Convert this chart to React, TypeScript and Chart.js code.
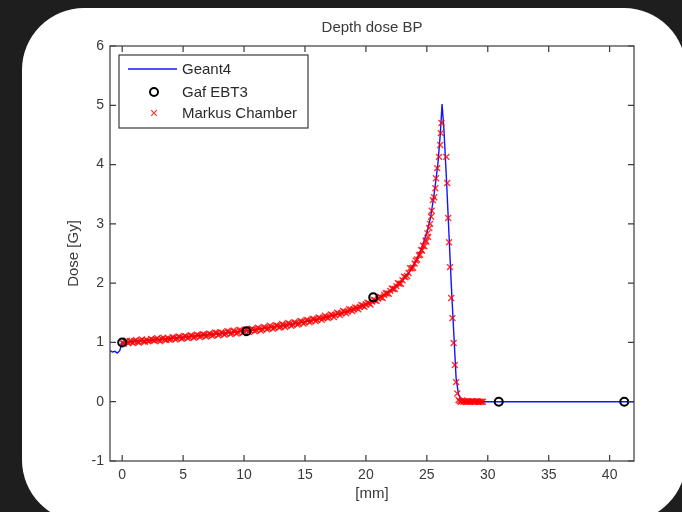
import React, { useEffect, useRef } from 'react';
import { Chart, registerables } from 'chart.js';

Chart.register(...registerables);

const titleText = 'Depth dose BP';
const xAxisTitle = '[mm]';
const yAxisTitle = 'Dose [Gy]';
const xTicks = [0, 5, 10, 15, 20, 25, 30, 35, 40];
const yTicks = [-1, 0, 1, 2, 3, 4, 5, 6];
const xRange = [-1, 42];
const yRange = [-1, 6];

const seriesNames = ['Geant4', 'Gaf EBT3', 'Markus Chamber'];

const geantX = [-1, -0.8, -0.6, -0.4, -0.2, 0, 1, 2, 3, 4, 5, 6, 7, 8, 9, 10, 11, 12, 13, 14, 15, 16, 17, 18, 19, 20, 21, 22, 23, 23.5, 24, 24.5, 25, 25.3, 25.6, 25.9, 26.1, 26.25, 26.4, 26.6, 26.8, 27.0, 27.2, 27.4, 27.6, 27.8, 28.0, 28.3, 30, 35, 42];
const geantY = [0.86, 0.84, 0.85, 0.82, 0.86, 1.0, 1.02, 1.03, 1.05, 1.07, 1.09, 1.11, 1.13, 1.15, 1.17, 1.19, 1.22, 1.25, 1.28, 1.31, 1.35, 1.39, 1.44, 1.49, 1.56, 1.64, 1.74, 1.87, 2.05, 2.17, 2.33, 2.55, 2.85, 3.1, 3.5, 4.0, 4.5, 5.02, 4.6, 3.8, 2.9, 2.0, 1.2, 0.4, 0.12, 0.04, 0.01, 0, 0, 0, 0];

const gafX = [0, 10.2, 20.6, 30.9, 41.2];
const gafY = [1.0, 1.19, 1.76, 0, 0];

// Markus chamber, first pass of readings
const markusX = [
  0, 0.25, 0.5, 0.75, 1, 1.25, 1.5, 1.75, 2, 2.25, 2.5, 2.75, 3, 3.25, 3.5, 3.75,
  4, 4.25, 4.5, 4.75, 5, 5.25, 5.5, 5.75, 6, 6.25, 6.5, 6.75, 7, 7.25, 7.5, 7.75,
  8, 8.25, 8.5, 8.75, 9, 9.25, 9.5, 9.75, 10, 10.25, 10.5, 10.75, 11, 11.25, 11.5, 11.75,
  12, 12.25, 12.5, 12.75, 13, 13.25, 13.5, 13.75, 14, 14.25, 14.5, 14.75, 15, 15.25, 15.5, 15.75,
  16, 16.25, 16.5, 16.75, 17, 17.25, 17.5, 17.75, 18, 18.25, 18.5, 18.75, 19, 19.25, 19.5, 19.75,
  20, 20.25, 20.5, 20.75, 21, 21.25, 21.5, 21.75, 22, 22.25, 22.5, 22.75, 23, 23.25, 23.5, 23.75,
  24, 24.2, 24.45, 24.6, 24.8, 24.95, 25.1, 25.27, 25.4, 25.5, 25.6, 25.7, 25.75, 25.85, 26.0, 26.1, 26.15, 26.2,
  26.6, 26.67, 26.75, 26.82, 26.9, 27.0, 27.1, 27.2, 27.3, 27.4, 27.5,
  27.6, 27.7, 27.8, 27.9, 28.0, 28.1, 28.2, 28.3, 28.4, 28.5, 28.6, 28.7, 28.8, 28.9, 29.0, 29.1, 29.2, 29.3, 29.4, 29.5, 29.6,
];
const markusY = [
  1.00, 1.01, 0.99, 1.01, 1.02, 1.01, 1.03, 1.02, 1.04, 1.03, 1.04, 1.05, 1.04, 1.06, 1.05, 1.07,
  1.06, 1.08, 1.07, 1.09, 1.08, 1.10, 1.09, 1.11, 1.10, 1.12, 1.11, 1.13, 1.12, 1.14, 1.13, 1.16,
  1.14, 1.16, 1.15, 1.18, 1.16, 1.18, 1.17, 1.20, 1.18, 1.21, 1.20, 1.22, 1.21, 1.23, 1.22, 1.25,
  1.24, 1.26, 1.25, 1.28, 1.27, 1.29, 1.29, 1.31, 1.30, 1.33, 1.32, 1.35, 1.34, 1.37, 1.36, 1.39,
  1.38, 1.41, 1.41, 1.43, 1.43, 1.46, 1.46, 1.49, 1.49, 1.52, 1.52, 1.55, 1.56, 1.58, 1.60, 1.62,
  1.64, 1.66, 1.69, 1.71, 1.74, 1.76, 1.80, 1.83, 1.87, 1.90, 1.95, 1.99, 2.05, 2.10, 2.17, 2.25,
  2.33, 2.40, 2.48, 2.55, 2.62, 2.70, 2.78, 3.00, 3.22, 3.40, 3.45, 3.60, 3.77, 3.94, 4.13, 4.33, 4.53, 4.70,
  4.13, 3.69, 3.10, 2.69, 2.27, 1.75, 1.41, 0.99, 0.62, 0.33, 0.14,
  0.03, 0.01, 0.00, 0.02, 0.00, 0.01, 0.00, 0.00, 0.01, 0.00, 0.00, 0.01, 0.00, 0.00, 0.00, 0.01, 0.00, 0.00, 0.00, 0.00, 0.00,
];

// Markus chamber, second (interleaved) pass of readings
const markusX2 = [
  0.125, 0.375, 0.625, 0.875, 1.125, 1.375, 1.625, 1.875, 2.125, 2.375, 2.625, 2.875, 3.125, 3.375, 3.625, 3.875,
  4.125, 4.375, 4.625, 4.875, 5.125, 5.375, 5.625, 5.875, 6.125, 6.375, 6.625, 6.875, 7.125, 7.375, 7.625, 7.875,
  8.125, 8.375, 8.625, 8.875, 9.125, 9.375, 9.625, 9.875, 10.125, 10.375, 10.625, 10.875, 11.125, 11.375, 11.625, 11.875,
  12.125, 12.375, 12.625, 12.875, 13.125, 13.375, 13.625, 13.875, 14.125, 14.375, 14.625, 14.875, 15.125, 15.375, 15.625, 15.875,
  16.125, 16.375, 16.625, 16.875, 17.125, 17.375, 17.625, 17.875, 18.125, 18.375, 18.625, 18.875, 19.125, 19.375, 19.625, 19.875,
  20.125, 20.375, 20.625, 20.875, 21.125, 21.375, 21.625, 21.875, 22.125, 22.375, 22.625, 22.875, 23.125, 23.375, 23.625, 23.875,
  24.1, 24.35, 24.55, 24.7, 24.9, 25.05, 25.2, 25.35,
];
const markusY2 = [
  0.98, 1.03, 1.02, 0.99, 1.04, 1.00, 1.05, 1.01, 1.02, 1.06, 1.03, 1.07, 1.02, 1.08, 1.04, 1.05,
  1.09, 1.05, 1.10, 1.06, 1.11, 1.07, 1.12, 1.08, 1.13, 1.09, 1.14, 1.10, 1.15, 1.11, 1.17, 1.12,
  1.17, 1.13, 1.19, 1.14, 1.20, 1.15, 1.21, 1.16, 1.22, 1.18, 1.23, 1.19, 1.25, 1.20, 1.26, 1.22,
  1.28, 1.23, 1.29, 1.25, 1.31, 1.26, 1.33, 1.28, 1.34, 1.30, 1.36, 1.32, 1.38, 1.34, 1.40, 1.36,
  1.42, 1.38, 1.45, 1.41, 1.47, 1.43, 1.50, 1.46, 1.53, 1.49, 1.56, 1.53, 1.59, 1.56, 1.63, 1.60,
  1.67, 1.64, 1.72, 1.70, 1.77, 1.75, 1.83, 1.82, 1.91, 1.90, 2.00, 1.99, 2.11, 2.12, 2.25, 2.26,
  2.38, 2.47, 2.56, 2.63, 2.72, 2.84, 2.93, 3.12,
];

const FONT = '"Liberation Sans", Arial, Helvetica, sans-serif';
const TEXT_COLOR = '#3a3a3a';
const BLUE = 'rgb(20,20,255)';
const RED = 'rgba(255,0,0,0.8)';

const toPoints = (xs: number[], ys: number[]) => xs.map((x, i) => ({ x, y: ys[i] }));

const matlabDecor = {
  id: 'matlabDecor',
  afterDraw(chart: any) {
    const { ctx, chartArea: a, scales } = chart;
    const xs = scales.x;
    const ys = scales.y;
    ctx.save();
    // box
    ctx.strokeStyle = '#3a3a3a';
    ctx.lineWidth = 1.2;
    ctx.strokeRect(a.left, a.top, a.right - a.left, a.bottom - a.top);
    // inner ticks
    const tl = 6;
    ctx.beginPath();
    xTicks.forEach((v) => {
      const px = xs.getPixelForValue(v);
      ctx.moveTo(px, a.bottom);
      ctx.lineTo(px, a.bottom - tl);
      ctx.moveTo(px, a.top);
      ctx.lineTo(px, a.top + tl);
    });
    yTicks.forEach((v) => {
      const py = ys.getPixelForValue(v);
      ctx.moveTo(a.left, py);
      ctx.lineTo(a.left + tl, py);
      ctx.moveTo(a.right, py);
      ctx.lineTo(a.right - tl, py);
    });
    ctx.stroke();

    // titles
    const cx = (a.left + a.right) / 2;
    const cy = (a.top + a.bottom) / 2;
    ctx.fillStyle = TEXT_COLOR;
    ctx.textAlign = 'center';
    ctx.textBaseline = 'middle';
    ctx.font = `15px ${FONT}`;
    ctx.fillText(titleText, cx, a.top - 18);
    ctx.fillText(xAxisTitle, cx, a.bottom + 33);
    ctx.save();
    ctx.translate(a.left - 36, cy);
    ctx.rotate(-Math.PI / 2);
    ctx.fillText(yAxisTitle, 0, 0);
    ctx.restore();

    // legend
    const lx = a.left + 9;
    const ly = a.top + 9;
    const lw = 189;
    const lh = 73;
    ctx.fillStyle = '#ffffff';
    ctx.fillRect(lx, ly, lw, lh);
    ctx.strokeStyle = '#3a3a3a';
    ctx.lineWidth = 1.2;
    ctx.strokeRect(lx, ly, lw, lh);
    const rows = [ly + 14, ly + 37, ly + 58];
    const mx = lx + 35;
    // line sample
    ctx.strokeStyle = BLUE;
    ctx.lineWidth = 1.3;
    ctx.beginPath();
    ctx.moveTo(lx + 9, rows[0]);
    ctx.lineTo(lx + 58, rows[0]);
    ctx.stroke();
    // circle sample
    ctx.strokeStyle = '#000000';
    ctx.lineWidth = 2;
    ctx.beginPath();
    ctx.arc(mx, rows[1], 4, 0, Math.PI * 2);
    ctx.stroke();
    // cross sample
    ctx.strokeStyle = RED;
    ctx.lineWidth = 1.2;
    const c = 2.8;
    ctx.beginPath();
    ctx.moveTo(mx - c, rows[2] - c);
    ctx.lineTo(mx + c, rows[2] + c);
    ctx.moveTo(mx + c, rows[2] - c);
    ctx.lineTo(mx - c, rows[2] + c);
    ctx.stroke();
    ctx.fillStyle = '#2a2a2a';
    ctx.textAlign = 'left';
    ctx.font = `15px ${FONT}`;
    seriesNames.forEach((n, i) => ctx.fillText(n, lx + 63, rows[i] + 1));
    ctx.restore();
  },
};

export default function App() {
  const canvasRef = useRef<HTMLCanvasElement | null>(null);

  useEffect(() => {
    const canvas = canvasRef.current;
    if (!canvas) return;
    const chart = new Chart(canvas, {
      type: 'scatter',
      data: {
        datasets: [
          {
            label: seriesNames[1],
            data: toPoints(gafX, gafY),
            pointStyle: 'circle',
            pointRadius: 4,
            pointBorderWidth: 2,
            borderColor: '#000000',
            backgroundColor: 'rgba(0,0,0,0)',
            showLine: false,
          },
          {
            label: seriesNames[2],
            data: [...toPoints(markusX, markusY), ...toPoints(markusX2, markusY2)],
            pointStyle: 'crossRot',
            pointRadius: 4.2,
            pointBorderWidth: 1.4,
            borderColor: RED,
            backgroundColor: RED,
            showLine: false,
          },
          {
            label: seriesNames[0],
            data: toPoints(geantX, geantY),
            showLine: true,
            borderColor: BLUE,
            borderWidth: 1.4,
            pointRadius: 0,
            tension: 0,
          },
        ],
      },
      options: {
        animation: false,
        responsive: false,
        devicePixelRatio: 1,
        layout: { padding: { left: 0, top: 46, right: 48, bottom: 0 } },
        plugins: {
          legend: { display: false },
          title: { display: false },
          tooltip: { enabled: false },
        },
        scales: {
          x: {
            type: 'linear',
            min: xRange[0],
            max: xRange[1],
            grid: { display: false, drawTicks: false },
            border: { display: false },
            ticks: {
              font: { family: FONT, size: 14 },
              color: TEXT_COLOR,
              padding: 6,
              maxRotation: 0,
            },
            afterBuildTicks: (scale: any) => {
              scale.ticks = xTicks.map((v) => ({ value: v }));
            },
            afterFit: (scale: any) => {
              scale.height = 51;
            },
          },
          y: {
            type: 'linear',
            min: yRange[0],
            max: yRange[1],
            grid: { display: false, drawTicks: false },
            border: { display: false },
            ticks: {
              font: { family: FONT, size: 14 },
              color: TEXT_COLOR,
              padding: 6,
            },
            afterBuildTicks: (scale: any) => {
              scale.ticks = yTicks.map((v) => ({ value: v }));
            },
            afterFit: (scale: any) => {
              scale.width = 110;
            },
          },
        },
      },
      plugins: [matlabDecor],
    });
    return () => chart.destroy();
  }, []);

  return (
    <div
      style={{
        position: 'fixed',
        left: 0,
        top: 0,
        width: 682,
        height: 512,
        background: '#1e1e1e',
        overflow: 'hidden',
      }}
    >
      <div
        style={{
          position: 'absolute',
          left: 22,
          top: 8,
          width: 664,
          height: 514,
          borderRadius: 62,
          background: '#ffffff',
        }}
      />
      <canvas
        ref={canvasRef}
        width={682}
        height={512}
        style={{ position: 'absolute', left: 0, top: 0, width: 682, height: 512 }}
      />
    </div>
  );
}
